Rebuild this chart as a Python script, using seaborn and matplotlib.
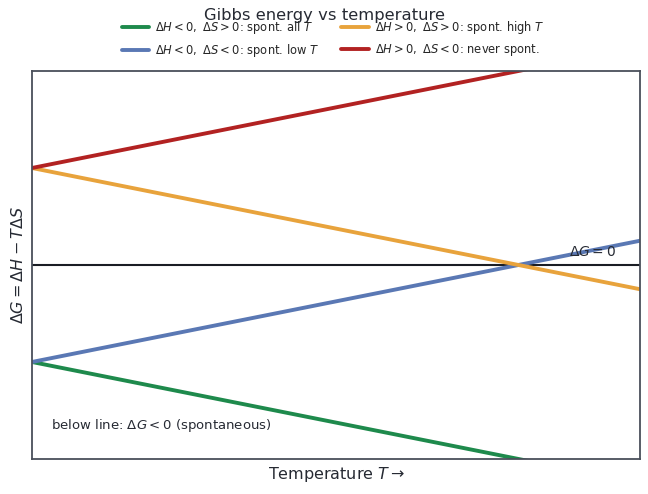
import numpy as np
import pandas as pd
import matplotlib
matplotlib.use("Agg")
import matplotlib.pyplot as plt
import seaborn as sns

# endpoints of each Delta G line (T from 0 to 1.25)
temps = [0.0, 1.25]
g_all_t = [-2.0, -4.5]
g_low_t = [-2.0, 0.5]
g_high_t = [2.0, -0.5]
g_never = [2.0, 4.5]

labels = [
    r"$\Delta H<0,\ \Delta S>0$: spont. all $T$",
    r"$\Delta H<0,\ \Delta S<0$: spont. low $T$",
    r"$\Delta H>0,\ \Delta S>0$: spont. high $T$",
    r"$\Delta H>0,\ \Delta S<0$: never spont.",
]
colors = ["#1e8a4c", "#5a78b4", "#e8a33c", "#b22222"]

rows = []
for lab, vals in zip(labels, [g_all_t, g_low_t, g_high_t, g_never]):
    for t, g in zip(temps, vals):
        rows.append({"T": t, "G": g, "case": lab})
df = pd.DataFrame(rows)

sns.set_theme(style="white")
fig = plt.figure(figsize=(6.48, 4.94), dpi=100)
ax = fig.add_axes([0.0494, 0.0709, 0.9383, 0.7854])

sns.lineplot(data=df, x="T", y="G", hue="case", palette=colors, linewidth=2.8, ax=ax, legend=True)
ax.axhline(0, color="#1a1d24", lw=1.5, zorder=1)

ax.set_xlim(0, 1.25)
ax.set_ylim(-4, 4)
ax.set_xticks([])
ax.set_yticks([])
for s in ax.spines.values():
    s.set_color("#4a4f5a")
    s.set_linewidth(1.3)

ax.text(1.105, 0.12, r"$\Delta G = 0$", fontsize=10, color="#262a33", va="bottom")
ax.text(0.04, -3.3, r"below line: $\Delta G<0$ (spontaneous)", fontsize=9.5, color="#262a33", va="center")

ax.set_xlabel(r"Temperature $T\rightarrow$", fontsize=11.5, color="#262a33")
ax.set_ylabel(r"$\Delta G=\Delta H - T\Delta S$", fontsize=11.5, color="#262a33")

fig.suptitle("Gibbs energy vs temperature", fontsize=11.8, y=0.984, color="#262a33")
handles, labs = ax.get_legend_handles_labels()
ax.legend_.remove()
fig.legend(handles, labs, loc="upper center", bbox_to_anchor=(0.514, 0.983), ncol=2,
           frameon=False, fontsize=8.3, handlelength=2.4, handletextpad=0.5, columnspacing=1.9)

fig.savefig("out.png", dpi=100)
